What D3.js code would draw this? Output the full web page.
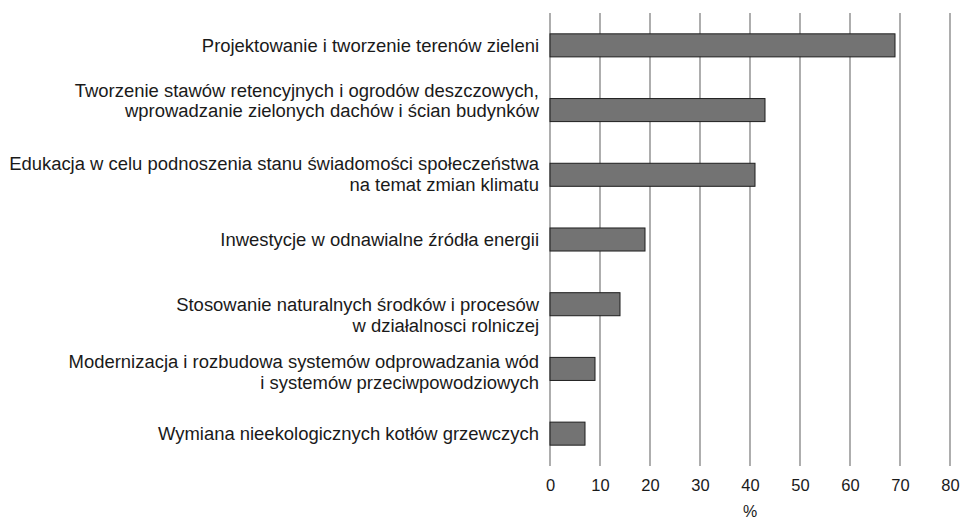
<!DOCTYPE html>
<html><head><meta charset="utf-8">
<script src="https://cdn.jsdelivr.net/npm/d3@7"></script>
<style>
html,body{margin:0;padding:0;background:#fff;}
svg text{font-family:"Liberation Sans",Arial,sans-serif;fill:#1a1a1a;}
</style></head>
<body>
<svg id="chart" width="961" height="520"></svg>
<script>
const categories = [
  ["Projektowanie i tworzenie terenów zieleni"],
  ["Tworzenie stawów retencyjnych i ogrodów deszczowych,", "wprowadzanie zielonych dachów i ścian budynków"],
  ["Edukacja w celu podnoszenia stanu świadomości społeczeństwa", "na temat zmian klimatu"],
  ["Inwestycje w odnawialne źródła energii"],
  ["Stosowanie naturalnych środków i procesów", "w działalnosci rolniczej"],
  ["Modernizacja i rozbudowa systemów odprowadzania wód", "i systemów przeciwpowodziowych"],
  ["Wymiana nieekologicznych kotłów grzewczych"]
];
const values = [69, 43, 41, 19, 14, 9, 7];
const tickValues = [0, 10, 20, 30, 40, 50, 60, 70, 80];
const axisTitle = "%";

// layout: vertical offset (px) of the first label line relative to bar centre
const firstLineShift = [1, -19.5, -11, 0.5, 0.8, -7.3, 0];
const lineGap = 20.8;

const svg = d3.select("#chart");
const x = d3.scaleLinear().domain([0, 80]).range([550, 950]);
const y = d3.scaleBand().domain(d3.range(categories.length))
  .range([13, 466]).paddingInner(0.644).paddingOuter(0.322);

// gridlines
svg.append("g").selectAll("line").data(tickValues).join("line")
  .attr("x1", d => x(d)).attr("x2", d => x(d))
  .attr("y1", 13).attr("y2", 466)
  .attr("stroke", "#777").attr("stroke-width", 1.2);

// bars
svg.append("g").selectAll("rect").data(values).join("rect")
  .attr("x", x(0)).attr("y", (d, i) => y(i))
  .attr("width", d => x(d) - x(0)).attr("height", y.bandwidth())
  .attr("fill", "#737373").attr("stroke", "#1e1e1e").attr("stroke-width", 1);

// category labels
const lab = svg.append("g").selectAll("text").data(categories).join("text")
  .attr("text-anchor", "end").attr("font-size", 18.45);
lab.each(function(lines, i) {
  const cy = y(i) + y.bandwidth() / 2 + firstLineShift[i];
  d3.select(this).selectAll("tspan").data(lines).join("tspan")
    .attr("x", 539).attr("y", (l, j) => cy + j * lineGap).attr("dy", "0.33em")
    .text(l => l);
});

// x axis tick labels
const axis = d3.axisBottom(x).tickValues(tickValues).tickSize(0).tickPadding(0);
const g = svg.append("g").attr("transform", "translate(0,479)").call(axis);
g.select(".domain").remove();
g.selectAll("text").attr("font-size", 16.5).attr("font-family", "Liberation Sans, Arial, sans-serif").attr("fill", "#1a1a1a");

svg.append("text").attr("x", 750).attr("y", 517).attr("text-anchor", "middle")
  .attr("font-size", 16).text(axisTitle);
</script>
</body></html>
